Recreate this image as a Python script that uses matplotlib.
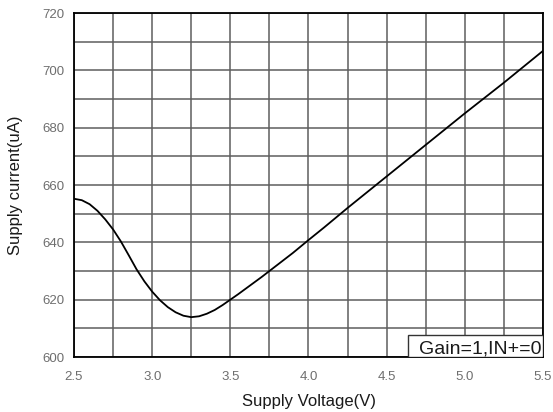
import matplotlib
matplotlib.use("Agg")
import matplotlib.pyplot as plt
from matplotlib.patches import Rectangle
import numpy as np

plt.rcParams['font.family'] = ['Liberation Sans', 'DejaVu Sans']

voltage = [2.5, 2.55, 2.6, 2.65, 2.7, 2.75, 2.8, 2.85, 2.9, 2.95, 3.0, 3.05, 3.1,
           3.15, 3.2, 3.25, 3.3, 3.35, 3.4, 3.45, 3.5, 3.55, 3.6, 3.65, 3.7, 3.75,
           3.8, 3.9, 4.0, 4.1, 4.25, 4.5, 4.75, 5.0, 5.25, 5.5]
current = [655.2, 654.7, 653.3, 651.0, 648.0, 644.5, 640.3, 635.5, 630.6, 626.4,
           622.8, 619.8, 617.4, 615.6, 614.4, 613.9, 614.2, 615.1, 616.4, 618.1,
           620.0, 621.9, 623.9, 625.9, 627.9, 630.0, 632.1, 636.3, 640.8, 645.2,
           652.0, 663.0, 674.0, 685.0, 695.7, 706.8]

x_ticks = [2.5, 3.0, 3.5, 4.0, 4.5, 5.0, 5.5]
y_ticks = [600, 620, 640, 660, 680, 700, 720]
note = "Gain=1,IN+=0"

fig = plt.figure(figsize=(5.53, 4.12), dpi=100)
ax = fig.add_axes([74/553, 1-357/412, (543-74)/553, (357-13)/412])

ax.plot(voltage, current, color='black', lw=1.3, zorder=3)

ax.set_xlim(2.5, 5.5)
ax.set_ylim(600, 720)
ax.set_xticks(x_ticks)
ax.set_xticklabels([f"{v:.1f}" for v in x_ticks])
ax.set_yticks(y_ticks)
ax.set_xticks(np.arange(2.5, 5.51, 0.25), minor=True)
ax.set_yticks(np.arange(600, 721, 10), minor=True)
ax.grid(which='both', color='#5e5e5e', lw=1.1, zorder=1)
ax.set_axisbelow(True)
ax.tick_params(which='both', length=0)
ax.tick_params(axis='x', pad=10, labelsize=9.5, labelcolor='#6e6e6e')
ax.tick_params(axis='y', pad=7, labelsize=9.5, labelcolor='#6e6e6e')
for s in ax.spines.values():
    s.set_color('black')
    s.set_linewidth(1.3)
    s.set_zorder(4)

ax.set_xlabel("Supply Voltage(V)", fontsize=12, color='#1a1a1a', labelpad=8)
ax.set_ylabel("Supply current(uA)", fontsize=12, color='#1a1a1a', labelpad=14)

ax.add_patch(Rectangle((0.712, 0.0), 0.288, 0.064, transform=ax.transAxes,
                       facecolor='white', edgecolor='#333333', lw=1.0, zorder=5))
ax.text(0.997, 0.011, note, transform=ax.transAxes, ha='right', va='baseline',
        fontsize=14, color='#1a1a1a', zorder=6)

fig.savefig("out.png", dpi=100)
